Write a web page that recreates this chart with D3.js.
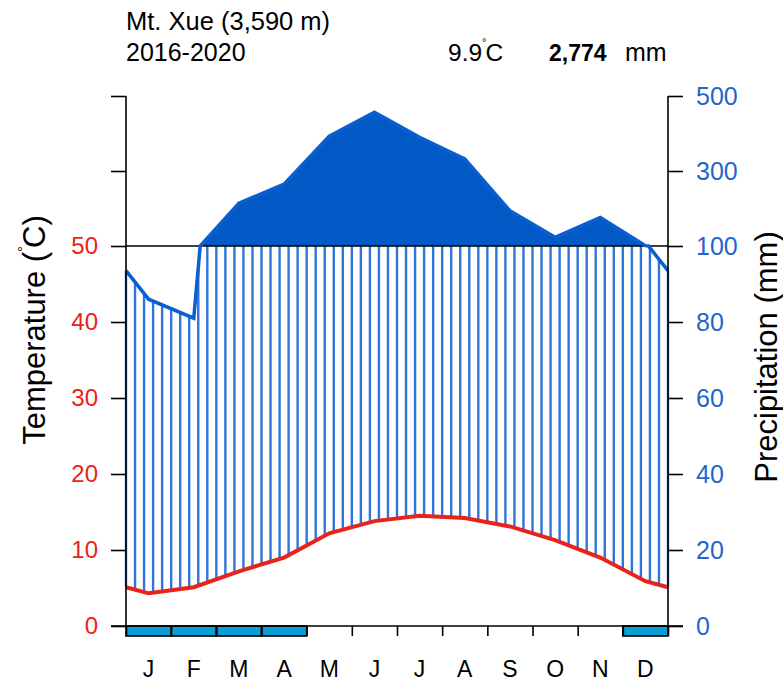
<!DOCTYPE html>
<meta charset="utf-8">
<style>
body { margin: 0; background: #fff; }
text { font-family: "Liberation Sans", Arial, sans-serif; }
</style>
<body>
<script src="https://cdn.jsdelivr.net/npm/d3@7/dist/d3.min.js"></script>
<script>
// monthly values
var months = ["J", "F", "M", "A", "M", "J", "J", "A", "S", "O", "N", "D"];
var temp = [4.3, 5.1, 7.2, 9.0, 12.2, 13.8, 14.5, 14.2, 13.1, 11.3, 9.0, 5.9];
var precip = [86, 81, 214, 265, 393, 457, 390, 332, 194, 123, 176, 101];
var frost = [1, 1, 1, 1, 0, 0, 0, 0, 0, 0, 0, 1];
var precTicks = [0, 20, 40, 60, 80, 100, 300, 500];

var W = 783, H = 683;
var left = 126, right = 668, bottom = 626;

var x = d3.scaleLinear().domain([0, 12]).range([left, right]);
var yP = d3.scaleLinear().domain([0, 100, 500]).range([bottom, 246, 96]);
var yT = function(t) { return yP(t * 2); };

var svg = d3.select("body").append("svg")
    .attr("width", W)
    .attr("height", H);

// series extended to the edges with the Dec/Jan mean
var xs = [0].concat(d3.range(12).map(function(i) { return i + 0.5; }), [12]);
var tEdge = (temp[11] + temp[0]) / 2, pEdge = (precip[11] + precip[0]) / 2;
var tExt = [tEdge].concat(temp, [tEdge]);
var pExt = [pEdge].concat(precip, [pEdge]);
var tAt = d3.scaleLinear().domain(xs).range(tExt);
var pAt = d3.scaleLinear().domain(xs).range(pExt);

// precip points with crossings of 100 mm inserted
var pPts = [];
for (var i = 0; i < xs.length; i++) {
  if (i > 0) {
    var p0 = pExt[i - 1], p1 = pExt[i];
    if ((p0 - 100) * (p1 - 100) < 0) {
      var f = (100 - p0) / (p1 - p0);
      pPts.push([xs[i - 1] + f * (xs[i] - xs[i - 1]), 100]);
    }
  }
  pPts.push([xs[i], pExt[i]]);
}

// vertical hatching between temperature and precipitation (capped at 100)
var nh = 60;
svg.append("g").selectAll("line")
    .data(d3.range(nh + 1).map(function(k) { return k * 12 / nh; }))
    .enter().append("line")
    .attr("x1", function(d) { return x(d); })
    .attr("x2", function(d) { return x(d); })
    .attr("y1", function(d) { return yT(tAt(d)); })
    .attr("y2", function(d) { return yP(Math.min(pAt(d), 100)); })
    .attr("stroke", "#2f74d9")
    .attr("stroke-width", 2.4);

// solid fill above 100 mm
svg.append("path")
    .datum(pPts)
    .attr("d", d3.area()
      .x(function(d) { return x(d[0]); })
      .y0(yP(100))
      .y1(function(d) { return yP(Math.max(d[1], 100)); }))
    .attr("fill", "#0059c4");

// 50 C / 100 mm reference line
svg.append("line")
    .attr("x1", left).attr("x2", right)
    .attr("y1", yP(100)).attr("y2", yP(100))
    .attr("stroke", "#000").attr("stroke-width", 1.6);

// temperature line
svg.append("path")
    .datum(tExt)
    .attr("d", d3.line()
      .x(function(d, i) { return x(xs[i]); })
      .y(function(d) { return yT(d); }))
    .attr("fill", "none")
    .attr("stroke", "#e8231b")
    .attr("stroke-width", 4);

// precipitation line
svg.append("path")
    .datum(pPts)
    .attr("d", d3.line()
      .x(function(d) { return x(d[0]); })
      .y(function(d) { return yP(d[1]); }))
    .attr("fill", "none")
    .attr("stroke", "#0a5fd0")
    .attr("stroke-width", 3.5);

// frost boxes
svg.append("g").selectAll("rect")
    .data(frost.map(function(v, i) { return {v: v, i: i}; }).filter(function(d) { return d.v; }))
    .enter().append("rect")
    .attr("x", function(d) { return x(d.i); })
    .attr("y", bottom)
    .attr("width", x(1) - x(0))
    .attr("height", 10)
    .attr("fill", "#0a9fd5")
    .attr("stroke", "#000")
    .attr("stroke-width", 1.6);

// axes
var leftAxis = svg.append("g")
    .attr("transform", "translate(" + left + ",0)")
    .call(d3.axisLeft(yP).tickValues(precTicks).tickSize(15).tickPadding(13)
      .tickFormat(function(d) { return d <= 100 ? d / 2 : ""; }));
var rightAxis = svg.append("g")
    .attr("transform", "translate(" + right + ",0)")
    .call(d3.axisRight(yP).tickValues(precTicks).tickSize(15).tickPadding(13));
var botAxis = svg.append("g")
    .attr("transform", "translate(0," + bottom + ")")
    .call(d3.axisBottom(x).tickValues(d3.range(13)).tickSize(10).tickFormat(""));

svg.selectAll(".domain").attr("stroke", "#000").attr("stroke-width", 1.6);
svg.selectAll(".tick line").attr("stroke", "#000").attr("stroke-width", 1.6);
leftAxis.selectAll("text").attr("font-size", 24).attr("fill", "#e8231b")
    .style("font-family", "Liberation Sans, Arial, sans-serif");
rightAxis.selectAll("text").attr("font-size", 25).attr("fill", "#1f66cc")
    .style("font-family", "Liberation Sans, Arial, sans-serif");
leftAxis.select(".domain").attr("d", "M0," + yP(500) + "V" + bottom);
rightAxis.select(".domain").attr("d", "M0," + yP(500) + "V" + bottom);
botAxis.select(".domain").attr("d", "M" + (left - 15) + ",0H" + (right + 15));

// month labels
svg.append("g").selectAll("text")
    .data(months)
    .enter().append("text")
    .attr("x", function(d, i) { return x(i + 0.5); })
    .attr("y", 677)
    .attr("text-anchor", "middle")
    .attr("font-size", 23)
    .text(function(d) { return d; });

// header
svg.append("text").attr("x", 126).attr("y", 30).attr("font-size", 25.5).text("Mt. Xue (3,590 m)");
svg.append("text").attr("x", 126).attr("y", 61).attr("font-size", 25).text("2016-2020");
var mt = svg.append("text").attr("x", 448).attr("y", 61).attr("font-size", 24.5);
mt.append("tspan").text("9.9");
mt.append("tspan").attr("font-size", 11).attr("dy", -15).text("°");
mt.append("tspan").attr("dy", 15).attr("dx", -1).text("C");
svg.append("text").attr("x", 549).attr("y", 61).attr("font-size", 23)
    .attr("font-weight", "bold").text("2,774");
svg.append("text").attr("x", 625).attr("y", 61).attr("font-size", 25).text("mm");

// axis titles
var tt = svg.append("text")
    .attr("transform", "translate(45,330) rotate(-90)")
    .attr("text-anchor", "middle")
    .attr("font-size", 31);
tt.append("tspan").text("Temperature (");
tt.append("tspan").attr("font-size", 15).attr("dy", -17).text("°");
tt.append("tspan").attr("dy", 17).attr("dx", -2).text("C)");

svg.append("text")
    .attr("transform", "translate(777,357) rotate(-90)")
    .attr("text-anchor", "middle")
    .attr("font-size", 31)
    .text("Precipitation (mm)");
</script>
</body>
